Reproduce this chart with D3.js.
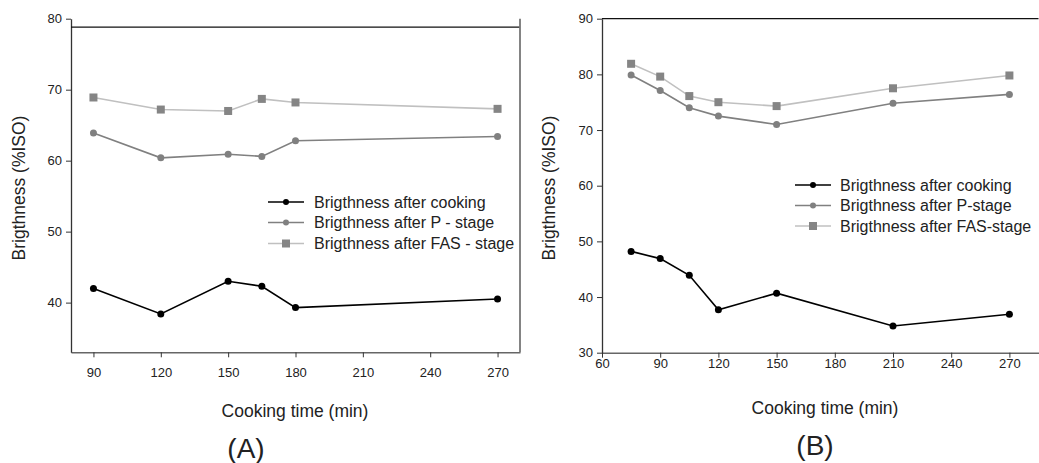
<!DOCTYPE html>
<html><head><meta charset="utf-8">
<script src="https://cdn.jsdelivr.net/npm/d3@7"></script>
<style>body{margin:0;background:#fff}svg{display:block}text{font-family:Arial,"Liberation Sans",sans-serif;fill:#222}</style>
</head><body><svg id="c" width="1039" height="463"></svg>
<script>
// Panel A data
const timeA = [90, 120, 150, 165, 180, 270];
const cookA = [42.0, 38.4, 43.0, 42.3, 39.3, 40.5];
const pA    = [63.9, 60.4, 60.9, 60.6, 62.8, 63.4];
const fasA  = [68.9, 67.2, 67.0, 68.7, 68.2, 67.3];
const xTicksA = [90, 120, 150, 180, 210, 240, 270];
const yTicksA = [40, 50, 60, 70, 80];
const legendA = ["Brigthness after cooking", "Brigthness after P - stage", "Brigthness after FAS - stage"];

// Panel B data
const timeB = [75, 90, 105, 120, 150, 210, 270];
const cookB = [48.2, 46.9, 43.9, 37.7, 40.7, 34.8, 36.9];
const pB    = [79.9, 77.1, 74.0, 72.5, 71.0, 74.8, 76.4];
const fasB  = [81.9, 79.6, 76.1, 75.0, 74.3, 77.5, 79.8];
const xTicksB = [60, 90, 120, 150, 180, 210, 240, 270];
const yTicksB = [30, 40, 50, 60, 70, 80, 90];
const legendB = ["Brigthness after cooking", "Brigthness after P-stage", "Brigthness after FAS-stage"];

const yTitle = "Brigthness (%ISO)";
const xTitle = "Cooking time (min)";

const svg = d3.select("#c");
const styles = [
  {line:"#000", mark:"#000", shape:"circle"},
  {line:"#808080", mark:"#808080", shape:"circle"},
  {line:"#c0c0c0", mark:"#858585", shape:"square"}
];

function drawPanel(cfg){
  const g = svg.append("g");
  const x = d3.scaleLinear().domain(cfg.xDomain).range(cfg.xRange);
  const y = d3.scaleLinear().domain(cfg.yDomain).range(cfg.yRange);

  // x axis
  const xa = g.append("g").attr("transform",`translate(0,${cfg.yRange[0]})`)
    .call(d3.axisBottom(x).tickValues(cfg.xTicks).tickSize(5).tickPadding(cfg.xPad).tickSizeOuter(0));
  xa.select(".domain").attr("stroke","#666").attr("stroke-width",1.6);
  xa.selectAll(".tick line").attr("stroke","#333");
  xa.selectAll("text").attr("font-size",13).attr("fill","#222");
  // y axis
  const ya = g.append("g").attr("transform",`translate(${cfg.xRange[0]},0)`)
    .call(d3.axisLeft(y).tickValues(cfg.yTicks).tickSize(5).tickPadding(4).tickSizeOuter(0));
  ya.select(".domain").attr("stroke","#333").attr("stroke-width",1.3);
  ya.selectAll(".tick line").attr("stroke","#333");
  ya.selectAll("text").attr("font-size",13).attr("fill","#222");

  // top frame line
  g.append("line").attr("x1",cfg.xRange[0]).attr("x2",cfg.xRange[1])
    .attr("y1",y(cfg.topLine)).attr("y2",y(cfg.topLine)).attr("stroke","#111").attr("stroke-width",1.3);
  if(cfg.rightBorder){
    g.append("line").attr("x1",cfg.xRange[1]).attr("x2",cfg.xRange[1])
      .attr("y1",cfg.yRange[1]).attr("y2",cfg.yRange[0]).attr("stroke","#777").attr("stroke-width",1.8);
  }

  const series = [cfg.cook, cfg.p, cfg.fas];
  [2,1,0].forEach(i=>{
    const st = styles[i];
    const pts = cfg.time.map((t,k)=>[t, series[i][k]]);
    g.append("path").datum(pts)
      .attr("d", d3.line().x(d=>x(d[0])).y(d=>y(d[1])))
      .attr("fill","none").attr("stroke",st.line).attr("stroke-width",1.6);
    if(st.shape==="circle"){
      g.selectAll(null).data(pts).join("circle")
        .attr("cx",d=>x(d[0])).attr("cy",d=>y(d[1])).attr("r",3.5).attr("fill",st.mark);
    } else {
      g.selectAll(null).data(pts).join("rect")
        .attr("x",d=>x(d[0])-4).attr("y",d=>y(d[1])-4).attr("width",8).attr("height",8).attr("fill",st.mark);
    }
  });

  // legend
  cfg.legend.forEach((lab,i)=>{
    const st = styles[i];
    const ly = cfg.legY[i];
    g.append("line").attr("x1",cfg.legX[0]).attr("x2",cfg.legX[1]).attr("y1",ly).attr("y2",ly)
      .attr("stroke",st.line).attr("stroke-width",1.6);
    const mx = (cfg.legX[0]+cfg.legX[1])/2;
    if(st.shape==="circle") g.append("circle").attr("cx",mx).attr("cy",ly).attr("r",3).attr("fill",st.mark);
    else g.append("rect").attr("x",mx-4).attr("y",ly-4).attr("width",8).attr("height",8).attr("fill",st.mark);
    g.append("text").attr("x",cfg.legX[2]).attr("y",ly).attr("dy","0.35em").attr("font-size",16).text(lab);
  });

  // titles
  g.append("text").attr("transform",`translate(${cfg.yTitleX},${cfg.yTitleY}) rotate(-90)`)
    .attr("text-anchor","middle").attr("dy","0.35em").attr("font-size",17.5).text(yTitle);
  g.append("text").attr("x",cfg.xTitleX).attr("y",cfg.xTitleY).attr("text-anchor","middle")
    .attr("dy","0.35em").attr("font-size",17.5).text(xTitle);
  g.append("text").attr("x",cfg.lblX).attr("y",cfg.lblY).attr("text-anchor","middle")
    .attr("dy","0.35em").attr("font-size",28).text(cfg.label);
}

drawPanel({
  xDomain:[80,280], xRange:[71,520], yDomain:[33,80], yRange:[352.3,18.7],
  xTicks:xTicksA, yTicks:yTicksA, xPad:10, topLine:78.8, rightBorder:true,
  time:timeA, cook:cookA, p:pA, fas:fasA, legend:legendA,
  legY:[202,222.5,243.5], legX:[268,304,314],
  yTitleX:19, yTitleY:188, xTitleX:295, xTitleY:411, lblX:246, lblY:448, label:"(A)"
});
drawPanel({
  xDomain:[60,285], xRange:[602,1038.5], yDomain:[30,90], yRange:[352.7,18.7],
  xTicks:xTicksB, yTicks:yTicksB, xPad:1, topLine:90, rightBorder:false,
  time:timeB, cook:cookB, p:pB, fas:fasB, legend:legendB,
  legY:[185,205.5,226], legX:[795,831,840],
  yTitleX:549, yTitleY:188, xTitleX:825, xTitleY:408, lblX:815, lblY:445, label:"(B)"
});
</script></body></html>
